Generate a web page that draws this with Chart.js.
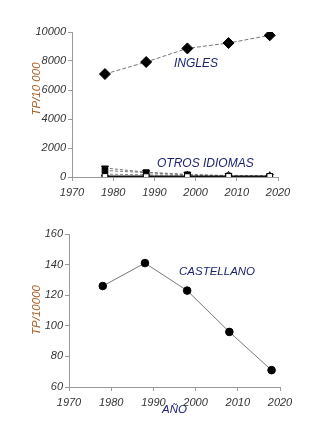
<!DOCTYPE html>
<html>
<head>
<meta charset="utf-8">
<script src="https://cdn.jsdelivr.net/npm/chart.js@4/dist/chart.umd.min.js"></script>
<style>
  html, body { margin: 0; padding: 0; background: #fff; }
  body { width: 334px; height: 439px; position: relative; overflow: hidden;
         font-family: "Liberation Sans", Arial, sans-serif; }
  .box { position: absolute; left: 0; }
  .lbl { position: absolute; font-style: italic; color: #1c2470; white-space: nowrap; line-height: 1; }
  .ytitle { position: absolute; font-style: italic; color: #a85a20; white-space: nowrap;
            line-height: 1; transform: translate(-50%, -50%) rotate(-90deg); }
</style>
</head>
<body>
<div class="box" style="top:0;width:334px;height:200px"><canvas id="top" width="334" height="200"></canvas></div>
<div class="box" style="top:200px;width:334px;height:239px"><canvas id="bottom" width="334" height="239"></canvas></div>

<div class="ytitle" style="left:37px;top:89px;font-size:11.5px">TP/10 000</div>
<div class="ytitle" style="left:37px;top:310px;font-size:11.5px">TP/10000</div>
<div class="lbl" style="left:174px;top:57px;font-size:12px">INGLES</div>
<div class="lbl" style="left:157px;top:157px;font-size:12px">OTROS IDIOMAS</div>
<div class="lbl" style="left:179px;top:266px;font-size:11.5px">CASTELLANO</div>

<script>
// Survey years
const years = [1978, 1988, 1998, 2008, 2018];

// Top panel: English and the other languages (TP per 10 000)
const ingles   = [7100, 7930, 8870, 9240, 9770];
const otrosA   = [620, 330, 180, 90, 60];   // filled triangles
const otrosB   = [450, 300, 150, 70, 40];   // filled squares
const otrosC   = [40, 30, 30, 40, 40];      // open squares
const otrosD   = [200, 150, 120, 110, 90];  // open triangles

// Bottom panel: Spanish (TP per 10 000)
const castellano = [126, 141, 123, 96, 71];

// Axis ticks
const xTicks = [1970, 1980, 1990, 2000, 2010, 2020];
const yTopTicks = [0, 2000, 4000, 6000, 8000, 10000];
const yBottomTicks = [60, 80, 100, 120, 140, 160];

const pts = (vals) => years.map((x, i) => ({ x, y: vals[i] }));

const tickFont = { family: '"Liberation Sans", Arial, sans-serif', size: 11, style: 'italic' };
const axisGrey = '#9a9a9a';
const plain = (v) => String(v);

function xAxis(height, withTitle) {
  return {
    type: 'linear', min: xTicks[0], max: xTicks[xTicks.length - 1],
    afterBuildTicks: (s) => { s.ticks = xTicks.map(v => ({ value: v })); },
    ticks: { font: tickFont, color: '#333', padding: 5, maxRotation: 0, autoSkip: false, callback: plain },
    grid: { drawOnChartArea: false, drawTicks: true, tickLength: 4, color: axisGrey },
    border: { color: axisGrey, width: 1 },
    title: withTitle ? { display: true, text: 'AÑO', color: '#1c2470', padding: 0,
      font: { family: '"Liberation Sans", Arial, sans-serif', size: 11.5, style: 'italic' } } : { display: false },
    afterFit: (s) => { s.height = height; }
  };
}

function yAxis(ticks, width) {
  return {
    type: 'linear', min: ticks[0], max: ticks[ticks.length - 1],
    afterBuildTicks: (s) => { s.ticks = ticks.map(v => ({ value: v })); },
    ticks: { font: tickFont, color: '#333', padding: 2, autoSkip: false, callback: plain },
    grid: { drawOnChartArea: false, drawTicks: true, tickLength: 4, color: axisGrey },
    border: { color: axisGrey, width: 1 },
    afterFit: (s) => { s.width = width; }
  };
}

const common = {
  responsive: false, animation: false, devicePixelRatio: 1,
  plugins: { legend: { display: false }, tooltip: { enabled: false } }
};

function small(vals, style, fill, lineColor, dash, lw, rot) {
  return {
    data: pts(vals), showLine: true, borderColor: lineColor, borderWidth: lw, borderDash: dash,
    pointStyle: style, pointRadius: 4, pointRotation: rot || 0,
    pointBackgroundColor: fill, pointBorderColor: '#000', pointBorderWidth: 1
  };
}

// Earlier datasets are painted on top
new Chart(document.getElementById('top'), {
  type: 'scatter',
  data: {
    datasets: [
      {
        data: pts(ingles), showLine: true, borderColor: '#777', borderWidth: 1, borderDash: [4, 2],
        pointStyle: 'rectRot', pointRadius: 5.5,
        pointBackgroundColor: '#000', pointBorderColor: '#000'
      },
      small(otrosC, 'rect', '#fff', '#111', [], 2),
      small(otrosB, 'rect', '#000', '#777', [3, 2], 1),
      small(otrosA, 'triangle', '#000', '#777', [3, 2], 1, 180),
      small(otrosD, 'triangle', '#fff', '#888', [3, 2], 1)
    ]
  },
  options: Object.assign({}, common, {
    layout: { padding: { top: 32, left: 0, right: 56, bottom: 0 } },
    scales: { x: xAxis(23, false), y: yAxis(yTopTicks, 72) }
  })
});

new Chart(document.getElementById('bottom'), {
  type: 'scatter',
  data: {
    datasets: [{
      data: pts(castellano), showLine: true, borderColor: '#777', borderWidth: 1,
      pointStyle: 'circle', pointRadius: 3.8,
      pointBackgroundColor: '#000', pointBorderColor: '#000'
    }]
  },
  options: Object.assign({}, common, {
    layout: { padding: { top: 34, left: 0, right: 54, bottom: 22 } },
    scales: { x: xAxis(30, true), y: yAxis(yBottomTicks, 69) }
  })
});
</script>
</body>
</html>
